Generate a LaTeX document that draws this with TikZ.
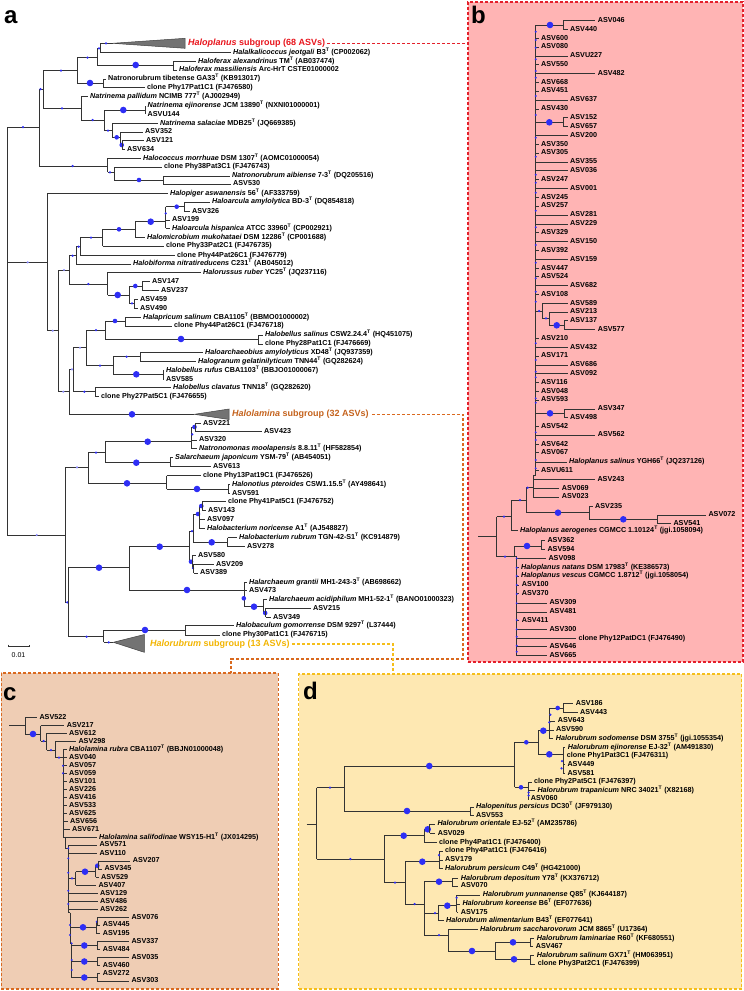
\documentclass[tikz,border=0pt]{standalone}
\usepackage{fontspec}
\setmainfont{Liberation Sans}
\usepackage{xcolor}
\definecolor{dotBlue}{HTML}{2E2EF5}
\definecolor{dotFaint}{HTML}{8C8CFF}
\definecolor{frameRed}{HTML}{E4202B}
\definecolor{frameOrange}{HTML}{D9691F}
\definecolor{frameYellow}{HTML}{F5BE1A}
\definecolor{fillPink}{HTML}{FFB4B4}
\definecolor{fillPeach}{HTML}{EFCDB4}
\definecolor{fillCream}{HTML}{FEE8B2}
\definecolor{labRed}{HTML}{E8141C}
\definecolor{labOrange}{HTML}{C4621C}
\definecolor{labYellow}{HTML}{F2B400}
\newcounter{phyleaf}
\newcommand{\typeT}{\textsuperscript{T}}
\newcommand{\sps}[1]{\textit{#1}}
\newcommand{\phyH}[3]{\draw[phy line] (#1,#2) -- (#3,#2);}
\newcommand{\phyV}[3]{\draw[phy line] (#1,#2) -- (#1,#3);}
\newcommand{\phyBig}[2]{\fill[phy dot] (#1,#2) circle (3.3);}
\newcommand{\phyMid}[2]{\fill[phy dot] (#1,#2) circle (2.3);}
\newcommand{\phySmall}[2]{\fill[phy dot] (#1,#2) circle (1.25);}
\newcommand{\phyFaint}[2]{\fill[phy faint] (#1,#2) circle (1.2);}
\newcommand{\phyLeaf}[4]{\stepcounter{phyleaf}\draw[phy line] (#1,#2) -- (#3-2.5,#2);\node[phy leaf] (leaf\arabic{phyleaf}) at (#3,#2) {#4};}
\tikzset{
  phy line/.style={draw=black!80, line width=0.7pt},
  phy dot/.style={fill=dotBlue},
  phy faint/.style={fill=dotFaint},
  phy leaf/.style={font=\fontsize{7.2}{8}\selectfont\bfseries, anchor=west, inner sep=0pt, text height=5.2pt, text depth=1.4pt},
  phy wedge/.style={fill=black!55, draw=black!75, line width=0.5pt},
  sub label/.style={font=\fontsize{9}{10}\selectfont\bfseries, anchor=west, inner sep=0pt},
  panel letter/.style={font=\fontsize{24}{24}\selectfont\bfseries, anchor=base west, inner sep=0pt},
  panel box/.style={dash pattern=on 3pt off 2pt, line width=1.1pt, inner sep=0pt, outer sep=0pt},
  link/.style={dash pattern=on 3pt off 2pt, line width=1.1pt}
}
\begin{document}
\begin{tikzpicture}[x=1pt,y=-1pt]
\useasboundingbox (0,0) rectangle (744,991);
% panel frames
\node[panel box, draw=frameRed, fill=fillPink, minimum width=275pt, minimum height=660pt] (pb) at (605.5,332) {};
\node[panel box, draw=frameOrange, fill=fillPeach, minimum width=277pt, minimum height=316pt] (pc) at (139.6,831) {};
\node[panel box, draw=frameYellow, fill=fillCream, minimum width=443pt, minimum height=315pt] (pd) at (520,831.5) {};
\node[panel letter] (la) at (4,23) {a};
\node[panel letter] (lb) at (471,23) {b};
\node[panel letter] (lc) at (3,700) {c};
\node[panel letter] (ld) at (303,699.3) {d};
\coordinate (lamTurn) at (463,659);
\coordinate (lamDrop) at (231,673);
\coordinate (rubDrop) at (393,674);

% ---- panel a ----
\phyV{7.3}{127}{535}
\phyH{7.3}{127}{39} \phySmall{23}{127}
\phyH{7.3}{262.3}{47.7} \phyFaint{27.7}{262.3}
\phyH{7.3}{535}{65} \phyFaint{36.7}{535}
% clade with Haloplanus
\phyV{39}{89}{166}
\phyH{39}{89}{43} \phySmall{40.5}{89}
\phyV{43}{70.7}{108.3}
\phyH{43}{70.7}{77} \phySmall{61}{70.7}
\phyV{77}{57.5}{83}
\phyH{77}{57.5}{97} \phySmall{87.5}{57.5}
\phyV{97}{48.3}{65}
\phyH{97}{48.3}{100} \phySmall{99}{48.3}
\phyV{100}{43.3}{52.3}
\phyH{100}{43.3}{112.5} \phySmall{106}{43.3}
\draw[phy wedge] (112.5,43.3) -- (185,38.3) -- (185,48.3) -- cycle;
\node[sub label, text=labRed] (planlab) at (188,43.3) {\sps{Haloplanus} subgroup (68 ASVs)};
\phyLeaf{100}{52.3}{233}{\sps{Halalkalicoccus jeotgali} B3\typeT{} (CP002062)}
\phyH{97}{65}{173} \phyBig{135.7}{65}
\phyV{173}{61.3}{70}
\phyLeaf{173}{61.3}{198}{\sps{Haloferax alexandrinus} TM\typeT{} (AB037474)}
\phyLeaf{173}{70}{179}{\sps{Haloferax massiliensis} Arc-HrT CSTE01000002}
\phyH{77}{83}{103} \phyBig{90}{83}
\phyV{103}{79}{87.7}
\phyLeaf{103}{79}{108}{Natronorubrum tibetense GA33\typeT{} (KB913017)}
\phyLeaf{103}{87.7}{147}{clone Phy17Pat1C1 (FJ476580)}
\phyH{43}{108.3}{81} \phySmall{62}{108.3}
\phyV{81}{96.7}{120}
\phyLeaf{81}{96.7}{90}{\sps{Natrinema pallidum} NCIMB 777\typeT{} (AJ002949)}
\phyH{81}{120}{104.3} \phySmall{92.7}{120}
\phyV{104.3}{110}{130.7}
\phyH{104.3}{110}{145} \phyBig{123.3}{110}
\phyV{145}{106}{114.3}
\phyLeaf{145}{106}{147.5}{\sps{Natrinema ejinorense} JCM 13890\typeT{} (NXNI01000001)}
\phyLeaf{145}{114.3}{147.5}{ASVU144}
\phyH{104.3}{130.7}{112.3} \phySmall{108}{130.7}
\phyV{112.3}{123.3}{137.3}
\phyLeaf{112.3}{123.3}{160}{\sps{Natrinema salaciae} MDB25\typeT{} (JQ669385)}
\phyH{112.3}{137.3}{120.7} \phyMid{116.7}{137.3}
\phyV{120.7}{132}{145}
\phyLeaf{120.7}{132}{145}{ASV352}
\phyH{120.7}{145}{122} \phyMid{121.7}{145}
\phyV{122}{140.7}{149.3}
\phyLeaf{122}{140.7}{146}{ASV121}
\phyLeaf{122}{149.3}{127}{ASV634}
\phyH{39}{166}{107.7} \phySmall{72.7}{166}
\phyV{107.7}{158.3}{172.3}
\phyLeaf{107.7}{158.3}{143}{\sps{Halococcus morrhuae} DSM 1307\typeT{} (AOMC01000054)}
\phyH{107.7}{172.3}{114.3} \phySmall{110}{172.3}
\phyV{114.3}{167}{180}
\phyLeaf{114.3}{167}{164}{clone Phy38Pat3C1 (FJ476743)}
\phyH{114.3}{180}{163.3} \phyMid{139}{180}
\phyV{163.3}{176}{184}
\phyLeaf{163.3}{176}{232}{\sps{Natronorubrum aibiense} 7-3\typeT{} (DQ205516)}
\phyLeaf{163.3}{184}{233}{ASV530}
% middle clade
\phyV{47.7}{193.3}{330.7}
\phyLeaf{47.7}{193.3}{170}{\sps{Halopiger aswanensis} 56\typeT{} (AF333759)}
\phyH{47.7}{330.7}{58.3} \phyFaint{52.7}{330.7}
\phyV{58.3}{270}{391.7}
\phyH{58.3}{270}{69.3} \phyFaint{64}{270}
\phyV{69.3}{255.7}{284}
\phyH{69.3}{255.7}{76} \phySmall{72.7}{255.7}
\phyV{76}{246.7}{264}
\phyH{76}{246.7}{80} \phySmall{78.7}{246.7}
\phyV{80}{237.7}{255.7}
\phyH{80}{237.7}{102.7} \phySmall{91}{237.7}
\phyV{102.7}{229.3}{246}
\phyH{102.7}{229.3}{135} \phyMid{119}{229.3}
\phyV{135}{221.7}{237.3}
\phyH{135}{221.7}{165.7} \phyBig{150.7}{221.7}
\phyV{165.7}{206.7}{228.3}
\phySmall{165.7}{213.3}
\phyH{165.7}{206.7}{184.3} \phyMid{176.7}{206.7}
\phyV{184.3}{202}{211.3}
\phyLeaf{184.3}{202}{212}{\sps{Haloarcula amylolytica} BD-3\typeT{} (DQ854818)}
\phyLeaf{184.3}{211.3}{192}{ASV326}
\phyLeaf{165.7}{220}{172}{ASV199}
\phyLeaf{165.7}{228.3}{172}{\sps{Haloarcula hispanica} ATCC 33960\typeT{} (CP002921)}
\phyLeaf{135}{237.3}{147}{\sps{Halomicrobium mukohataei} DSM 12286\typeT{} (CP001688)}
\phyLeaf{102.7}{246}{166}{clone Phy33Pat2C1 (FJ476735)}
\phyLeaf{80}{255.7}{177}{clone Phy44Pat26C1 (FJ476779)}
\phyLeaf{76}{264}{133}{\sps{Halobiforma nitratireducens} C231\typeT{} (AB045012)}
\phyH{69.3}{284}{107.7} \phySmall{88.3}{284}
\phyV{107.7}{272.3}{295}
\phyLeaf{107.7}{272.3}{203}{\sps{Halorussus ruber} YC25\typeT{} (JQ237116)}
\phyH{107.7}{295}{129} \phyBig{117.7}{295}
\phyV{129}{286}{303.3}
\phyH{129}{286}{142} \phyMid{135.3}{286}
\phyV{142}{281.7}{290.7}
\phyLeaf{142}{281.7}{152}{ASV147}
\phyLeaf{142}{290.7}{161}{ASV237}
\phyH{129}{303.3}{134} \phySmall{132}{303.3}
\phyV{134}{299.3}{308.3}
\phyLeaf{134}{299.3}{140}{ASV459}
\phyLeaf{134}{308.3}{140}{ASV490}
\phyH{58.3}{391.7}{69.3} \phyFaint{63.3}{391.7}
\phyV{69.3}{369.3}{414.3}
\phyH{69.3}{369.3}{73.3} \phyFaint{72}{369.3}
\phyV{73.3}{347.7}{391.7}
\phyH{73.3}{347.7}{86} \phyFaint{80}{347.7}
\phyV{86}{330}{365.7}
\phyH{86}{330}{105} \phySmall{96}{330}
\phyV{105}{321}{339}
\phyH{105}{321}{125} \phyMid{115}{321}
\phyV{125}{317.3}{326}
\phyLeaf{125}{317.3}{143}{\sps{Halapricum salinum} CBA1105\typeT{} (BBMO01000002)}
\phyLeaf{125}{326}{174}{clone Phy44Pat26C1 (FJ476718)}
\phyH{105}{339}{258} \phyBig{181}{339}
\phyV{258}{335}{344}
\phyLeaf{258}{335}{265}{\sps{Halobellus salinus} CSW2.24.4\typeT{} (HQ451075)}
\phyLeaf{258}{344}{265}{clone Phy28Pat1C1 (FJ476669)}
\phyH{86}{365.7}{113} \phySmall{100}{365.7}
\phyV{113}{356.7}{374.3}
\phyH{113}{356.7}{140} \phySmall{126.7}{356.7}
\phyV{140}{352.7}{361.7}
\phyLeaf{140}{352.7}{205}{\sps{Haloarchaeobius amylolyticus} XD48\typeT{} (JQ937359)}
\phyLeaf{140}{361.7}{198}{\sps{Halogranum gelatinilyticum} TNN44\typeT{} (GQ282624)}
\phyH{113}{374.3}{163.3} \phyBig{136.3}{374.3}
\phyV{163.3}{370.7}{379.3}
\phyLeaf{163.3}{370.7}{166}{\sps{Halobellus rufus} CBA1103\typeT{} (BBJO01000067)}
\phyLeaf{163.3}{379.3}{166}{ASV585}
\phyH{73.3}{391.7}{95} \phySmall{84.3}{391.7}
\phyV{95}{387.7}{396.7}
\phyLeaf{95}{387.7}{173}{\sps{Halobellus clavatus} TNN18\typeT{} (GQ282620)}
\phyLeaf{95}{396.7}{101}{clone Phy27Pat5C1 (FJ476655)}
\phyH{69.3}{414.3}{194.3} \phyBig{132}{414.3}
\draw[phy wedge] (194.3,414.3) -- (229,409) -- (229,419.5) -- cycle;
\node[sub label, text=labOrange] (lamlab) at (232,414.3) {\sps{Halolamina} subgroup (32 ASVs)};
% lower clade
\phyV{65}{467.3}{602.3}
\phyH{65}{467.3}{88} \phyFaint{77}{467.3}
\phyV{88}{452.7}{483.3}
\phyH{88}{452.7}{105} \phySmall{96}{452.7}
\phyV{105}{441.7}{462.7}
\phyH{105}{441.7}{191.7} \phyBig{147.7}{441.7}
\phyV{191.7}{427}{448.7}
\phyH{191.7}{427}{195.7} \phyMid{194.5}{427}
\phyV{195.7}{423.3}{431.7}
\phyLeaf{195.7}{423.3}{203}{ASV221}
\phyLeaf{195.7}{431.7}{264}{ASV423}
\phySmall{192.3}{434.3}
\phyLeaf{191.7}{440}{199}{ASV320}
\phyLeaf{191.7}{448.7}{199}{\sps{Natronomonas moolapensis} 8.8.11\typeT{} (HF582854)}
\phyH{105}{462.7}{170} \phyBig{136.3}{462.7}
\phyV{170}{457.7}{466.7}
\phyLeaf{170}{457.7}{175}{\sps{Salarchaeum japonicum} YSM-79\typeT{} (AB454051)}
\phyLeaf{170}{466.7}{213}{ASV613}
\phyH{88}{483.3}{166.7} \phyBig{127}{483.3}
\phyV{166.7}{475.7}{489}
\phyLeaf{166.7}{475.7}{203}{clone Phy13Pat19C1 (FJ476526)}
\phyH{166.7}{489}{228} \phyBig{197}{489}
\phyV{228}{484.7}{493.3}
\phyLeaf{228}{484.7}{232}{\sps{Halonotius pteroides} CSW1.15.5\typeT{} (AY498641)}
\phyLeaf{228}{493.3}{232}{ASV591}
\phyH{65}{602.3}{68.3} \phySmall{67.3}{602.3}
\phyV{68.3}{567.7}{636.7}
\phyH{68.3}{567.7}{129.3} \phyBig{99}{567.7}
\phyV{129.3}{546.7}{590}
\phyH{129.3}{546.7}{189.7} \phyBig{159.7}{546.7}
\phyV{189.7}{531}{561.7}
\phyH{189.7}{531}{193} \phySmall{192}{531}
\phyV{193}{514}{542.3}
\phyH{193}{514}{199} \phyMid{198}{514}
\phyV{199}{506}{528.3}
\phyH{199}{506}{202} \phyMid{201.3}{506}
\phyV{202}{501.7}{510.7}
\phyLeaf{202}{501.7}{228}{clone Phy41Pat5C1 (FJ476752)}
\phyLeaf{202}{510.7}{208}{ASV143}
\phyLeaf{199}{519.3}{207}{ASV097}
\phyLeaf{199}{528.3}{207}{\sps{Halobacterium noricense} A1\typeT{} (AJ548827)}
\phyH{193}{542.3}{227.7} \phyBig{211.7}{542.3}
\phyV{227.7}{537.7}{546.7}
\phyLeaf{227.7}{537.7}{239}{\sps{Halobacterium rubrum} TGN-42-S1\typeT{} (KC914879)}
\phyLeaf{227.7}{546.7}{247}{ASV278}
\phyH{189.7}{561.7}{192} \phyMid{191}{561.7}
\phyV{192}{555.3}{568}
\phyLeaf{192}{555.3}{198}{ASV580}
\phyH{192}{568}{193.5} \phySmall{193}{568}
\phyV{193.5}{564.3}{573}
\phyLeaf{193.5}{564.3}{216}{ASV209}
\phyLeaf{193.5}{573}{200}{ASV389}
\phyH{129.3}{590}{244.3} \phyBig{187}{590}
\phyV{244.3}{582.3}{606.7}
\phyLeaf{244.3}{582.3}{249}{\sps{Halarchaeum grantii} MH1-243-3\typeT{} (AB698662)}
\phyLeaf{244.3}{590.7}{249}{ASV473}
\phyMid{243.8}{598.3}
\phyH{244.3}{606.7}{263.3} \phyBig{254}{606.7}
\phyV{263.3}{599.3}{613}
\phyLeaf{263.3}{599.3}{269}{\sps{Halarchaeum acidiphilum} MH1-52-1\typeT{} (BANO01000323)}
\phyH{263.3}{613}{265.7} \phyMid{265.2}{613}
\phyV{265.7}{608.3}{617.3}
\phyLeaf{265.7}{608.3}{313}{ASV215}
\phyLeaf{265.7}{617.3}{273}{ASV349}
\phyH{68.3}{636.7}{103.7} \phySmall{86.7}{636.7}
\phyV{103.7}{630}{642.3}
\phyH{103.7}{630}{185} \phyBig{145}{630}
\phyV{185}{625.7}{635}
\phyLeaf{185}{625.7}{236}{\sps{Halobaculum gomorrense} DSM 9297\typeT{} (L37444)}
\phyLeaf{185}{635}{222}{clone Phy30Pat1C1 (FJ476715)}
\phyH{103.7}{642.3}{113.3} \phySmall{108.7}{642.3}
\draw[phy wedge] (113.3,642.3) -- (144.3,634.5) -- (144.3,652.3) -- cycle;
\node[sub label, text=labYellow] (rublab) at (150,644) {\sps{Halorubrum} subgroup (13 ASVs)};
% scale bar
\draw[black!80, line width=0.6pt] (8,644.7) -- (8,646.7) -- (29,646.7) -- (29,644.7);
\node[font=\fontsize{7}{8}\selectfont, inner sep=0pt] (scale) at (18.5,655) {0.01};
% subgroup links
\draw[link, draw=frameRed] ([xshift=2pt]planlab.east) -- (planlab.east -| pb.west);
\draw[link, draw=frameOrange] ([xshift=3pt]lamlab.east) -| (lamTurn) -| (lamDrop);
\draw[link, draw=frameYellow] ([xshift=2pt]rublab.east) -| (rubDrop);

% ---- panel b ----
\phyV{535.7}{25}{475}
\phyH{535.7}{25}{563.3} \phyBig{550}{25}
\phyV{563.3}{20.7}{29.3}
\phyLeaf{563.3}{20.7}{597.7}{ASV046}
\phyLeaf{563.3}{29.3}{570}{ASV440}
\phyLeaf{535.7}{38.3}{541}{ASV600}
\phyLeaf{535.7}{47}{541}{ASV080}
\phyLeaf{535.7}{56}{570}{ASVU227}
\phyLeaf{535.7}{64.7}{541}{ASV550}
\phyLeaf{535.7}{73.3}{597.7}{ASV482}
\phyLeaf{535.7}{82.3}{541}{ASV668}
\phyLeaf{535.7}{91}{541}{ASV451}
\phyLeaf{535.7}{100}{570}{ASV637}
\phyLeaf{535.7}{109}{541}{ASV430}
\phyH{535.7}{122.3}{563.3} \phyBig{549.3}{122.3}
\phyV{563.3}{117.7}{126.7}
\phyLeaf{563.3}{117.7}{570}{ASV152}
\phyLeaf{563.3}{126.7}{570}{ASV657}
\phyLeaf{535.7}{135.3}{570}{ASV200}
\phyLeaf{535.7}{144.3}{541}{ASV350}
\phyLeaf{535.7}{153}{541}{ASV305}
\phyLeaf{535.7}{162}{570}{ASV355}
\phyLeaf{535.7}{170.7}{570}{ASV036}
\phyLeaf{535.7}{179.7}{541}{ASV247}
\phyLeaf{535.7}{188.3}{570}{ASV001}
\phyLeaf{535.7}{197.3}{541}{ASV245}
\phyLeaf{535.7}{206}{541}{ASV257}
\phyLeaf{535.7}{215}{570}{ASV281}
\phyLeaf{535.7}{224}{570}{ASV229}
\phyLeaf{535.7}{232.7}{541}{ASV329}
\phyLeaf{535.7}{241.7}{570}{ASV150}
\phyLeaf{535.7}{250.7}{541}{ASV392}
\phyLeaf{535.7}{259.3}{570}{ASV159}
\phyLeaf{535.7}{268.3}{541}{ASV447}
\phyLeaf{535.7}{276.7}{541}{ASV524}
\phyLeaf{535.7}{285.7}{570}{ASV682}
\phyLeaf{535.7}{294.3}{541}{ASV108}
\phyH{535.7}{311}{542.3} \phySmall{539}{311}
\phyV{542.3}{303.3}{318.3}
\phyLeaf{542.3}{303.3}{570}{ASV589}
\phyH{542.3}{318.3}{549.3} \phySmall{546}{318.3}
\phyV{549.3}{312}{325.3}
\phyLeaf{549.3}{312}{570}{ASV213}
\phyH{549.3}{325.3}{564} \phyBig{556.7}{325.3}
\phyV{564}{320.7}{329.7}
\phyLeaf{564}{320.7}{570}{ASV137}
\phyLeaf{564}{329.7}{597.7}{ASV577}
\phyLeaf{535.7}{338.3}{541}{ASV210}
\phyLeaf{535.7}{347.3}{570}{ASV432}
\phyLeaf{535.7}{356}{541}{ASV171}
\phyLeaf{535.7}{365}{570}{ASV686}
\phyLeaf{535.7}{373.7}{570}{ASV092}
\phyLeaf{535.7}{382.7}{541}{ASV116}
\phyLeaf{535.7}{391.3}{541}{ASV048}
\phyLeaf{535.7}{400}{541}{ASV593}
\phyH{535.7}{413.3}{564} \phyBig{550}{413.3}
\phyV{564}{409}{417.7}
\phyLeaf{564}{409}{597.7}{ASV347}
\phyLeaf{564}{417.7}{570}{ASV498}
\phyLeaf{535.7}{426.7}{541}{ASV542}
\phyLeaf{535.7}{435}{597.7}{ASV562}
\phyLeaf{535.7}{444.3}{541}{ASV642}
\phyLeaf{535.7}{452.7}{541}{ASV067}
\phyLeaf{535.7}{462}{569}{\sps{Haloplanus salinus} YGH66\typeT{} (JQ237126)}
\phyLeaf{535.7}{470.7}{541}{ASVU611}
\foreach \y in {31.7,40,47.7,59.3,71,77.7,96,115,137.7,156.7,174.7,182.7,192.7,210.7,227.3,245,262.7,278.3,291.7,301.7,343.3,360,371.7,377.3,398.3,402.7,432.3,440,460,468.3}
  \fill[phy dot] (535.7,\y) circle (1.1);
\phyH{533.3}{475}{535.7}
\phyV{533.3}{475}{497}
\phyLeaf{533.3}{479.3}{597.3}{ASV243}
\phyLeaf{533.3}{488.3}{561.7}{ASV069}
\phyLeaf{533.3}{497}{561.7}{ASV023}
\phyH{478.3}{536.7}{496.7}
\phyV{496.7}{516.7}{556.7}
\phyH{496.7}{516.7}{511.7} \phySmall{504}{516.7}
\phyV{511.7}{500}{530.7}
\phyH{511.7}{500}{526} \phySmall{520}{500}
\phyV{526}{487.7}{512.7}
\phyH{526}{487.7}{533.3} \phySmall{527.7}{487.7}
\phyH{526}{512.7}{589} \phyBig{558}{512.7}
\phyV{589}{506.7}{519.3}
\phyLeaf{589}{506.7}{595}{ASV235}
\phyH{589}{519.3}{657.3} \phyBig{623.3}{519.3}
\phyV{657.3}{515}{523.3}
\phyLeaf{657.3}{515}{708.3}{ASV072}
\phyLeaf{657.3}{523.3}{673.3}{ASV541}
\phyLeaf{511.7}{530.7}{520}{\sps{Haloplanus aerogenes} CGMCC 1.10124\typeT{} (jgi.1058094)}
\phyH{496.7}{556.7}{514.3} \phySmall{505}{556.7}
\phyV{514.3}{546}{556.7}
\phyH{514.3}{546}{541.3} \phyBig{527}{546}
\phyV{541.3}{540.7}{549.3}
\phyLeaf{541.3}{540.7}{547.3}{ASV362}
\phyLeaf{541.3}{549.3}{547.3}{ASV594}
\phyH{514.3}{556.7}{516.7}
\phyV{516.7}{556.7}{655.7}
\phyLeaf{516.7}{558.3}{548.3}{ASV098}
\phyLeaf{516.7}{567.3}{521}{\sps{Haloplanus natans} DSM 17983\typeT{} (KE386573)}
\phyLeaf{516.7}{576}{521}{\sps{Haloplanus vescus} CGMCC 1.8712\typeT{} (jgi.1058054)}
\phyLeaf{516.7}{585}{521.7}{ASV100}
\phyLeaf{516.7}{593.7}{521.7}{ASV370}
\phyLeaf{516.7}{603}{549.3}{ASV309}
\phyLeaf{516.7}{612}{549.3}{ASV481}
\phyLeaf{516.7}{620.3}{521.7}{ASV411}
\phyLeaf{516.7}{629.3}{549.3}{ASV300}
\phyLeaf{516.7}{638.7}{578.3}{clone Phy12PatDC1 (FJ476490)}
\phyLeaf{516.7}{646.7}{549.3}{ASV646}
\phyLeaf{516.7}{655.7}{549.3}{ASV665}
\foreach \y in {558.3,567.7,576,585,594,603.3,620,629.3,636.7,645.7,651.7}
  \fill[phy dot] (516.7,\y) circle (1.1);

% ---- panel c ----
\phyH{9.3}{725.7}{25}
\phyV{25}{717.3}{734}
\phyLeaf{25}{717.3}{39.3}{ASV522}
\phyH{25}{734}{40.7} \phyBig{33}{734}
\phyV{40.7}{725.7}{741}
\phyLeaf{40.7}{725.7}{66.7}{ASV217}
\phyH{40.7}{741}{46.7} \phySmall{43.7}{741}
\phyV{46.7}{733.3}{750}
\phyLeaf{46.7}{733.3}{69}{ASV612}
\phyH{46.7}{750}{55} \phySmall{51}{750}
\phyV{55}{741.7}{757.7}
\phyLeaf{55}{741.7}{78.3}{ASV298}
\phyH{55}{757.7}{63} \phySmall{59}{757.7}
\phyV{63}{749.3}{838}
\phyLeaf{63}{749.3}{69}{\sps{Halolamina rubra} CBA1107\typeT{} (BBJN01000048)}
\phyLeaf{63}{757.7}{69}{ASV040}
\phyLeaf{63}{765.7}{69}{ASV057}
\phyLeaf{63}{773.3}{69}{ASV059}
\phyLeaf{63}{781.3}{69}{ASV101}
\phyLeaf{63}{789.3}{69}{ASV226}
\phyLeaf{63}{797.3}{69}{ASV416}
\phyLeaf{63}{805.3}{69}{ASV533}
\phyLeaf{63}{813.3}{69}{ASV625}
\phyLeaf{63}{821.3}{70}{ASV656}
\phyLeaf{63}{829.3}{72}{ASV671}
\phyLeaf{63}{837.7}{99}{\sps{Halolamina salifodinae} WSY15-H1\typeT{} (JX014295)}
\phyV{65}{838}{848.3}
\phyH{65}{848.3}{68.3}
\phyV{68.3}{845}{912.7}
\phyH{68.3}{912.7}{70}
\phyV{70}{912.7}{943.3}
\phyH{70}{943.3}{71.7}
\phyV{71.7}{943.3}{977.7}
\phyLeaf{68.3}{845}{99.3}{ASV571}
\phyLeaf{68.3}{853.3}{99.3}{ASV110}
\phyH{68.3}{878.3}{75.7} \phySmall{72}{878.3}
\phyV{75.7}{871.7}{885.3}
\phyH{75.7}{871.7}{95.7} \phyBig{85}{871.7}
\phyV{95.7}{865.7}{877.3}
\phyH{95.7}{865.7}{98} \phyMid{97.3}{865.7}
\phyV{98}{861}{869}
\phyLeaf{98}{861}{132.7}{ASV207}
\phyLeaf{98}{869}{104.3}{ASV345}
\phyLeaf{95.7}{877.3}{101}{ASV529}
\phyLeaf{75.7}{885.3}{98.3}{ASV407}
\phyLeaf{68.3}{893.3}{100}{ASV129}
\phyLeaf{68.3}{901.3}{100}{ASV486}
\phyLeaf{68.3}{909.3}{100}{ASV262}
\phyH{70}{927.3}{96} \phyBig{83}{927.3}
\phyV{96}{921.7}{933.3}
\phyH{96}{921.7}{97.3} \phySmall{96.8}{921.7}
\phyV{97.3}{917.3}{925}
\phyLeaf{97.3}{917.3}{131.3}{ASV076}
\phyLeaf{97.3}{925}{102.7}{ASV445}
\phyLeaf{96}{933.3}{102.7}{ASV195}
\phyH{71.7}{945.5}{97} \phyBig{84.3}{945.5}
\phyV{97}{941.7}{949.3}
\phyLeaf{97}{941.7}{131.3}{ASV337}
\phyLeaf{97}{949.3}{102.7}{ASV484}
\phyH{71.7}{961.5}{97} \phyBig{84.3}{961.5}
\phyV{97}{957.3}{965.3}
\phyLeaf{97}{957.3}{131.3}{ASV035}
\phyLeaf{97}{965.3}{102.7}{ASV460}
\phyH{71.7}{977.5}{97} \phyBig{84.3}{977.5}
\phyV{97}{973.3}{981}
\phyLeaf{97}{973.3}{102.7}{ASV272}
\phyLeaf{97}{981}{131.3}{ASV303}
\foreach \y in {765.7,773.3}
  \fill[phy dot] (63,\y) circle (1.1);
\foreach \y in {848.3,858.3,872.7,890.7,904}
  \fill[phy dot] (68.3,\y) circle (1.1);
\foreach \y in {925,935}
  \fill[phy dot] (70,\y) circle (1.1);
\foreach \y in {943.3,960,970}
  \fill[phy dot] (71.7,\y) circle (1.1);

% ---- panel d ----
\phyH{306.7}{824}{316.7}
\phyV{316.7}{787.7}{859}
\phyH{316.7}{787.7}{344} \phySmall{330}{787.7}
\phyV{344}{766}{811}
\phyH{344}{766}{514.7} \phyBig{429.3}{766}
\phyV{514.7}{742.3}{787.3}
\phyH{514.7}{742.3}{538.3} \phyMid{526.3}{742.3}
\phyV{538.3}{730.7}{754.3}
\phyH{538.3}{730.7}{549.7} \phyBig{543.3}{730.7}
\phyV{549.7}{708}{738.7}
\phyH{549.7}{708}{563.3} \phyMid{557.7}{708}
\phyV{563.3}{703.3}{712.3}
\phyLeaf{563.3}{703.3}{575.7}{ASV186}
\phyLeaf{563.3}{712.3}{580}{ASV443}
\phyLeaf{549.7}{721}{557.7}{ASV643}
\phyLeaf{549.7}{730}{556}{ASV590}
\phyLeaf{549.7}{738.7}{555.7}{\sps{Halorubrum sodomense} DSM 3755\typeT{} (jgi.1055354)}
\phySmall{550.3}{714.7} \phySmall{549.3}{722.3}
\phyH{538.3}{754.3}{563.3} \phyBig{549.3}{754.3}
\phyV{563.3}{747.3}{773.3}
\phyLeaf{563.3}{747.3}{567.7}{\sps{Halorubrum ejinorense} EJ-32\typeT{} (AM491830)}
\phyLeaf{563.3}{756}{566.7}{clone Phy1Pat3C1 (FJ476311)}
\phyLeaf{563.3}{764.3}{567.3}{ASV449}
\phyLeaf{563.3}{773.3}{567.3}{ASV581}
\phySmall{562}{761} \phySmall{561.5}{768.3}
\phyH{514.7}{787.3}{528.7} \phyMid{521}{787.3}
\phyV{528.7}{782}{799}
\phyLeaf{528.7}{782}{534}{clone Phy2Pat5C1 (FJ476397)}
\phyLeaf{528.7}{790.7}{537.3}{\sps{Halorubrum trapanicum} NRC 34021\typeT{} (X82168)}
\phyLeaf{528.7}{799}{530.7}{ASV060}
\phySmall{528.7}{792.5} \phySmall{528.7}{795.5}
\phyH{344}{811}{470.3} \phyBig{407}{811}
\phyV{470.3}{807}{815.7}
\phyLeaf{470.3}{807}{476}{\sps{Halopenitus persicus} DC30\typeT{} (JF979130)}
\phyLeaf{470.3}{815.7}{476}{ASV553}
\phyH{316.7}{859}{384.3} \phySmall{350.3}{859}
\phyV{384.3}{835.7}{882.7}
\phyH{384.3}{835.7}{424} \phyBig{403.7}{835.7}
\phyV{424}{829.3}{842.3}
\phyH{424}{829.3}{429.7} \phyBig{427.7}{829.3}
\phyV{429.7}{824}{833.3}
\phyLeaf{429.7}{824}{437.3}{\sps{Halorubrum orientale} EJ-52\typeT{} (AM235786)}
\phyLeaf{429.7}{833.3}{437.7}{ASV029}
\phyLeaf{424}{842.3}{439}{clone Phy4Pat1C1 (FJ476400)}
\phyH{384.3}{882.7}{405} \phySmall{395}{882.7}
\phyV{405}{861.7}{904}
\phyH{405}{861.7}{439} \phyBig{422.3}{861.7}
\phyV{439}{851}{868.3}
\phyLeaf{439}{851}{445}{clone Phy4Pat1C1 (FJ476416)}
\phyLeaf{439}{860}{445}{ASV179}
\phyLeaf{439}{868.3}{445}{\sps{Halorubrum persicum} C49\typeT{} (HG421000)}
\phySmall{439}{855}
\phyH{405}{904}{424.3} \phySmall{414.7}{904}
\phyV{424.3}{881.7}{935}
\phyH{424.3}{881.7}{452.3} \phyBig{439}{881.7}
\phyV{452.3}{878.3}{886}
\phyLeaf{452.3}{878.3}{460.7}{\sps{Halorubrum depositum} Y78\typeT{} (KX376712)}
\phyLeaf{452.3}{886}{460.7}{ASV070}
\phyH{424.3}{913}{438.3} \phySmall{435}{913}
\phyV{438.3}{905.7}{920.7}
\phyH{438.3}{905.7}{456.7} \phyBig{447.3}{905.7}
\phyV{456.7}{895}{912.3}
\phyLeaf{456.7}{895}{482.7}{\sps{Halorubrum yunnanense} Q85\typeT{} (KJ644187)}
\phyLeaf{456.7}{904}{462.3}{\sps{Halorubrum koreense} B6\typeT{} (EF077636)}
\phyLeaf{456.7}{912.3}{460.7}{ASV175}
\phySmall{456.7}{897.7}
\phyLeaf{438.3}{920.7}{446}{\sps{Halorubrum alimentarium} B43\typeT{} (EF077641)}
\phyH{424.3}{935}{448.3} \phySmall{439}{935}
\phyV{448.3}{929.3}{951}
\phyLeaf{448.3}{929.3}{480}{\sps{Halorubrum saccharovorum} JCM 8865\typeT{} (U17364)}
\phyH{448.3}{951}{495.3} \phyBig{472}{951}
\phyV{495.3}{942.3}{959.3}
\phyH{495.3}{942.3}{530} \phyBig{513}{942.3}
\phyV{530}{938.3}{946.7}
\phyLeaf{530}{938.3}{536.7}{\sps{Halorubrum laminariae} R60\typeT{} (KF680551)}
\phyLeaf{530}{946.7}{535.7}{ASV467}
\phyH{495.3}{959.3}{530} \phyBig{514}{959.3}
\phyV{530}{955.7}{964}
\phyLeaf{530}{955.7}{536.7}{\sps{Halorubrum salinum} GX71\typeT{} (HM063951)}
\phyLeaf{530}{964}{537.7}{clone Phy3Pat2C1 (FJ476399)}
\end{tikzpicture}
\end{document}
